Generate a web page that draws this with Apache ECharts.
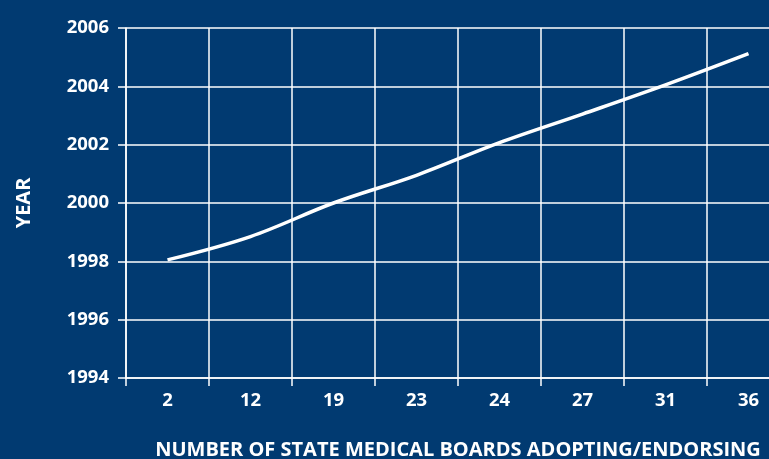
<!DOCTYPE html>
<html>
<head>
<meta charset="UTF-8" />
<title></title>
<script type="text/javascript" src="https://cdn.jsdelivr.net/npm/echarts@6/dist/echarts.min.js"></script>
<style>
	html, body { margin: 0; padding: 0; background: #013a71; }
	#main { width: 769px; height: 459px; }
</style>
</head>
<body>
<div id="main"></div>
<script>
    // 横轴：采纳/认可的州医学委员会数量
    var boards = ['2', '12', '19', '23', '24', '27', '31', '36'];
    // 纵轴：年份
    var years = [1998.05, 1998.85, 2000.0, 2000.95, 2002.07, 2003.05, 2004.05, 2005.12];
    var yMin = 1994, yMax = 2006, yStep = 2;

    var myChart = echarts.init(document.getElementById('main'));
    var txt = { color: '#ffffff', fontFamily: 'Open Sans', fontWeight: 'bold' };

    myChart.setOption({
        backgroundColor: '#013a71',
        animation: false,
        grid: { left: 126, top: 28, width: 664, height: 350, outerBoundsMode: 'none', containLabel: false },
        xAxis: {
            type: 'category',
            data: boards,
            boundaryGap: true,
            name: 'NUMBER OF STATE MEDICAL BOARDS ADOPTING/ENDORSING',
            nameLocation: 'middle',
            nameGap: 62,
            nameTextStyle: Object.assign({ fontSize: 20 }, txt),
            axisLine: { show: true, lineStyle: { color: '#ffffff', width: 1.5 } },
            axisTick: { show: true, length: 8, lineStyle: { color: '#ffffff', width: 1.5 } },
            axisLabel: Object.assign({ fontSize: 18.5, margin: 13 }, txt),
            splitLine: { show: true, lineStyle: { color: '#ffffff', width: 1.5 } }
        },
        yAxis: {
            type: 'value',
            min: yMin,
            max: yMax,
            interval: yStep,
            name: 'YEAR',
            nameLocation: 'middle',
            nameRotate: 90,
            nameGap: 92,
            nameTextStyle: Object.assign({ fontSize: 20 }, txt),
            axisLine: { show: true, lineStyle: { color: '#ffffff', width: 1.5 } },
            axisTick: { show: true, length: 8, lineStyle: { color: '#ffffff', width: 1.5 } },
            axisLabel: Object.assign({ fontSize: 18.5, margin: 17, formatter: function (v) { return String(v); } }, txt),
            splitLine: { show: true, lineStyle: { color: '#ffffff', width: 1.5 } }
        },
        series: [{
            type: 'line',
            data: years,
            smooth: 0.35,
            symbol: 'none',
            lineStyle: { color: '#ffffff', width: 3.5 }
        }]
    });
</script>
</body>
</html>
